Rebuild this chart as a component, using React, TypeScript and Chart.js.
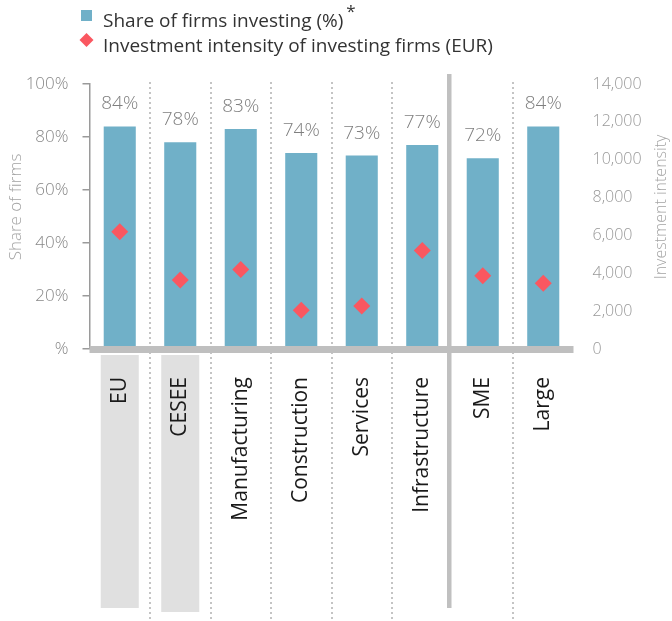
import React, { useEffect, useRef } from 'react';
import { Chart, registerables } from 'chart.js';

Chart.register(...registerables);

const categories = ['EU', 'CESEE', 'Manufacturing', 'Construction', 'Services', 'Infrastructure', 'SME', 'Large'];
const shareOfFirmsInvesting = [84, 78, 83, 74, 73, 77, 72, 84];
const investmentIntensity = [6200, 3650, 4200, 2050, 2270, 5200, 3870, 3470];
const shareTicks = [0, 20, 40, 60, 80, 100];
const intensityTicks = [0, 2000, 4000, 6000, 8000, 10000, 12000, 14000];
const highlightedCategories = ['EU', 'CESEE'];
const groupBreakAfter = 'Infrastructure';
const legendLabels = ['Share of firms investing (%)', 'Investment intensity of investing firms (EUR)'];
const legendNote = '*';
const axisTitles = ['Share of firms', 'Investment intensity'];

const BAR_COLOR = '#70b0c8';
const DIAMOND_COLOR = '#fa5760';
const FONT = "'Open Sans', 'Noto Sans', sans-serif";

const decorPlugin = {
  id: 'decor',
  beforeDraw(chart: any) {
    const { ctx, chartArea, scales } = chart;
    const x = scales.x;
    ctx.save();
    // highlight boxes behind the group labels
    ctx.fillStyle = '#e0e0e0';
    categories.forEach((c, i) => {
      if (!highlightedCategories.includes(c)) return;
      const cx = x.getPixelForValue(i);
      ctx.fillRect(cx - 19, chartArea.bottom + 6, 38, i === 0 ? 253 : 257);
    });
    // separators
    for (let i = 1; i < categories.length; i++) {
      const bx = (x.getPixelForValue(i - 1) + x.getPixelForValue(i)) / 2;
      if (categories[i - 1] === groupBreakAfter) {
        ctx.fillStyle = '#c0c0c0';
        ctx.fillRect(bx - 5.5, chartArea.top - 10, 4.5, 534);
      } else {
        ctx.strokeStyle = '#c4c4c4';
        ctx.lineWidth = 2;
        ctx.setLineDash([2, 3]);
        ctx.beginPath();
        ctx.moveTo(Math.round(bx), chartArea.top - 2);
        ctx.lineTo(Math.round(bx), 621);
        ctx.stroke();
        ctx.setLineDash([]);
      }
    }
    ctx.restore();
  },
  afterDatasetsDraw(chart: any) {
    const { ctx, chartArea } = chart;
    ctx.save();
    // thick baseline
    ctx.fillStyle = '#bfbfbf';
    ctx.fillRect(chartArea.left, chartArea.bottom - 3, chartArea.right - chartArea.left, 7);
    // value labels
    const meta = chart.getDatasetMeta(1);
    ctx.font = `300 19px ${FONT}`;
    ctx.fillStyle = '#7f7f7f';
    ctx.textAlign = 'center';
    ctx.textBaseline = 'alphabetic';
    meta.data.forEach((el: any, i: number) => {
      ctx.fillText(`${shareOfFirmsInvesting[i]}%`, el.x, el.y - 17);
    });
    ctx.restore();
  },
  afterDraw(chart: any) {
    const { ctx } = chart;
    ctx.save();
    // axis titles (reading bottom to top)
    const midY = 207;
    ctx.fillStyle = '#a3a3a3';
    ctx.textAlign = 'center';
    ctx.textBaseline = 'middle';
    ctx.font = `300 17px ${FONT}`;
    ctx.translate(16, midY);
    ctx.rotate(-Math.PI / 2);
    ctx.fillText(axisTitles[0], 0, 0);
    ctx.setTransform(1, 0, 0, 1, 0, 0);
    ctx.font = `300 16px ${FONT}`;
    ctx.translate(661, midY);
    ctx.rotate(-Math.PI / 2);
    ctx.fillText(axisTitles[1], 0, 0);
    ctx.setTransform(1, 0, 0, 1, 0, 0);

    // legend
    ctx.textAlign = 'left';
    ctx.textBaseline = 'alphabetic';
    ctx.fillStyle = BAR_COLOR;
    ctx.fillRect(81, 10, 11, 11);
    ctx.font = `19px ${FONT}`;
    ctx.fillStyle = '#333333';
    ctx.fillText(legendLabels[0], 103, 27);
    const w = ctx.measureText(legendLabels[0]).width;
    ctx.font = `17px ${FONT}`;
    ctx.fillText(legendNote, 103 + w + 3, 17);
    ctx.fillStyle = DIAMOND_COLOR;
    ctx.beginPath();
    ctx.moveTo(86.5, 33);
    ctx.lineTo(93.5, 40);
    ctx.lineTo(86.5, 47);
    ctx.lineTo(79.5, 40);
    ctx.closePath();
    ctx.fill();
    ctx.font = `19px ${FONT}`;
    ctx.fillStyle = '#333333';
    ctx.fillText(legendLabels[1], 103, 52);
    ctx.restore();
  },
};

export default function App() {
  const ref = useRef<HTMLCanvasElement>(null);
  useEffect(() => {
    if (!ref.current) return;
    Chart.defaults.font.family = FONT;
    const chart = new Chart(ref.current, {
      data: {
        labels: categories,
        datasets: [
          {
            type: 'line',
            label: legendLabels[1],
            data: investmentIntensity,
            yAxisID: 'y1',
            showLine: false,
            pointStyle: 'rectRot',
            pointRadius: 8.5,
            pointHoverRadius: 8.5,
            pointBackgroundColor: DIAMOND_COLOR,
            pointBorderColor: DIAMOND_COLOR,
            pointBorderWidth: 0,
            order: 0,
          },
          {
            type: 'bar',
            label: legendLabels[0],
            data: shareOfFirmsInvesting,
            yAxisID: 'y',
            backgroundColor: BAR_COLOR,
            borderWidth: 0,
            barPercentage: 0.53,
            categoryPercentage: 1,
            order: 1,
          },
        ],
      } as any,
      options: {
        responsive: false,
        animation: false,
        devicePixelRatio: 1,
        layout: { padding: { top: 84, left: 0, right: 0, bottom: 0 }, autoPadding: false },
        plugins: { legend: { display: false }, tooltip: { enabled: false } },
        scales: {
          x: {
            type: 'category',
            offset: true,
            grid: { display: false, drawTicks: false },
            border: { display: false },
            ticks: {
              autoSkip: false,
              minRotation: 90,
              maxRotation: 90,
              padding: 28,
              color: '#1a1a1a',
              font: { size: 21, family: FONT },
            },
            afterFit: (s: any) => { s.height = 272; },
          },
          y: {
            type: 'linear',
            position: 'left',
            min: shareTicks[0],
            max: shareTicks[shareTicks.length - 1],
            afterBuildTicks: (s: any) => { s.ticks = shareTicks.map((v) => ({ value: v })); },
            grid: { drawOnChartArea: false, drawTicks: true, tickLength: 7, color: '#9a9a9a', lineWidth: 1.5 },
            border: { display: true, color: '#9a9a9a', width: 1.5 },
            ticks: {
              padding: 14,
              color: '#888888',
              font: { size: 17, weight: '300', family: FONT },
              callback: (v: any) => (v === 0 ? '%' : `${v}%`),
            },
            afterFit: (s: any) => { s.width = 89.5; },
          },
          y1: {
            type: 'linear',
            position: 'right',
            min: intensityTicks[0],
            max: intensityTicks[intensityTicks.length - 1],
            afterBuildTicks: (s: any) => { s.ticks = intensityTicks.map((v) => ({ value: v })); },
            grid: { display: false, drawTicks: false },
            border: { display: false },
            ticks: {
              padding: 19,
              color: '#999999',
              font: { size: 16, weight: '300', family: FONT },
              callback: (v: any) => Number(v).toLocaleString('en-US'),
            },
            afterFit: (s: any) => { s.width = 98.5; },
          },
        },
      } as any,
      plugins: [decorPlugin],
    });
    return () => chart.destroy();
  }, []);

  return (
    <div style={{ position: 'absolute', left: 0, top: 0, width: 672, height: 621, background: '#fff' }}>
      <canvas ref={ref} width={672} height={621} style={{ display: 'block', width: 672, height: 621 }} />
    </div>
  );
}
